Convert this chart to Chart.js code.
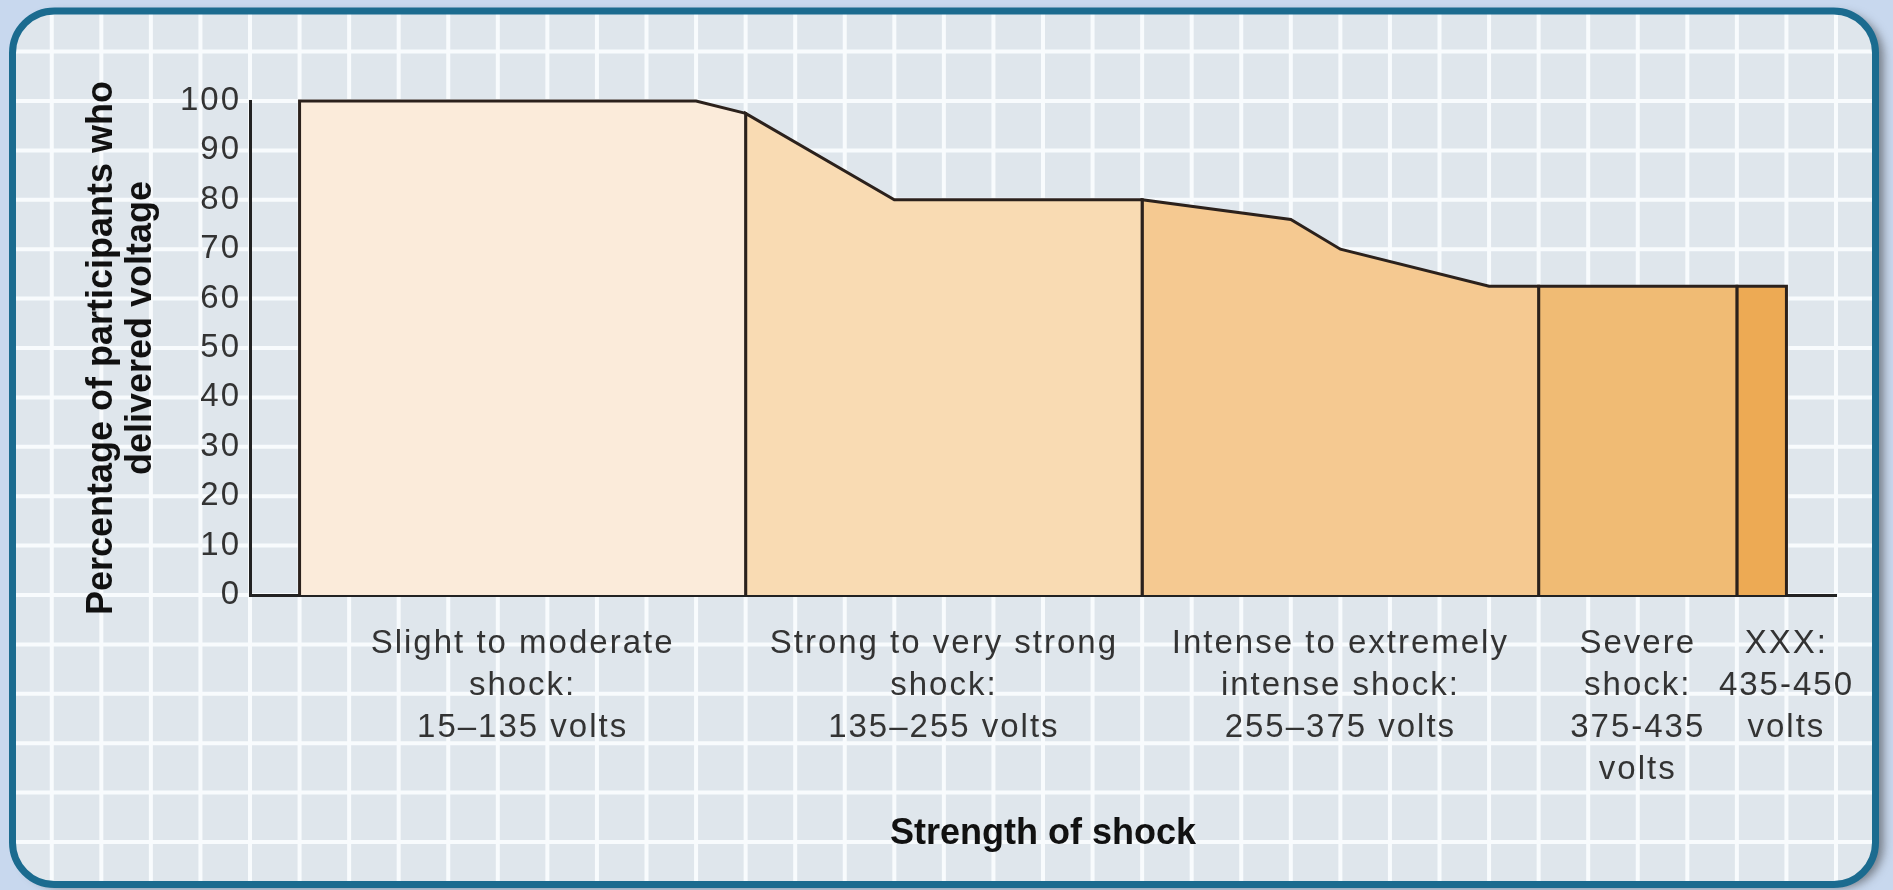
<!DOCTYPE html>
<html>
<head>
<meta charset="utf-8">
<script src="https://cdn.jsdelivr.net/npm/chart.js@4.4.0/dist/chart.umd.min.js"></script>
<style>
  html, body { margin: 0; padding: 0; background: #c8d8ee; overflow: hidden; }
  #wrap { width: 1893px; height: 890px; position: relative; }
</style>
</head>
<body>
<div id="wrap"><canvas id="shockChart"></canvas></div>
<script>
// shock level (volts) and % of participants still delivering it
const voltage = [0, 120, 135, 180, 255, 300, 315, 360, 375, 435, 450];
const percent = [100, 100, 97.5, 80, 80, 76, 70, 62.5, 62.5, 62.5, 62.5];

// shock bands on the generator
const bandEdges = [0, 135, 255, 375, 435, 450];
const bandColors = ['#fbebda', '#f9dbb3', '#f5c991', '#f0bb74', '#edaa54'];
const bandLabels = [
    ['Slight to moderate', 'shock:', '15–135 volts'],
    ['Strong to very strong', 'shock:', '135–255 volts'],
    ['Intense to extremely', 'intense shock:', '255–375 volts'],
    ['Severe', 'shock:', '375-435', 'volts'],
    ['XXX:', '435-450', 'volts']
];

const yTicks = [0, 10, 20, 30, 40, 50, 60, 70, 80, 90, 100];
const yTitle = ['Percentage of participants who', 'delivered voltage'];
const xTitle = 'Strength of shock';

const FONT = "'Liberation Sans', Arial, Helvetica, sans-serif";

// one filled shape per band: up the left edge, along the curve, down the right edge
function bandPoints(lo, hi) {
    const pts = [{ x: lo, y: 0 }];
    voltage.forEach((v, i) => {
        if (v >= lo && v <= hi) pts.push({ x: v, y: percent[i] });
    });
    pts.push({ x: hi, y: 0 });
    return pts;
}

const datasets = bandColors.map((col, i) => ({
    data: bandPoints(bandEdges[i], bandEdges[i + 1]),
    backgroundColor: col,
    borderColor: '#2b211c',
    borderWidth: 3,
    fill: 'origin',
    pointRadius: 0,
    tension: 0,
    borderJoinStyle: 'miter',
    clip: false
}));

// rounded panel with the white squared paper behind the chart
const panelPlugin = {
    id: 'panel',
    beforeDraw(chart) {
        const { ctx, scales: { x, y } } = chart;
        const L = 12.5, T = 11, R = 1875.5, B = 884.5, rad = 42;

        ctx.save();
        ctx.beginPath();
        ctx.roundRect(L, T, R - L, B - T, rad);
        ctx.shadowColor = 'rgba(50,50,50,0.55)';
        ctx.shadowOffsetX = 8;
        ctx.shadowOffsetY = 3;
        ctx.shadowBlur = 10;
        ctx.fillStyle = '#dfe6ec';
        ctx.fill();
        ctx.shadowColor = 'transparent';
        ctx.clip();

        ctx.strokeStyle = '#f8fbfd';
        ctx.lineWidth = 4;
        for (let v = -300; v <= 700; v += 15) {
            const px = x.getPixelForValue(v);
            if (px < L || px > R) continue;
            ctx.beginPath(); ctx.moveTo(px, T); ctx.lineTo(px, B); ctx.stroke();
        }
        for (let p = -80; p <= 200; p += 10) {
            const py = y.getPixelForValue(p);
            if (py < T || py > B) continue;
            ctx.beginPath(); ctx.moveTo(L, py); ctx.lineTo(R, py); ctx.stroke();
        }
        ctx.restore();

        ctx.save();
        ctx.beginPath();
        ctx.roundRect(L, T, R - L, B - T, rad);
        ctx.lineWidth = 7;
        ctx.strokeStyle = '#1b6b8f';
        ctx.stroke();
        ctx.restore();

        ctx.letterSpacing = '2px'; // picked up by the y tick labels
    },
    afterDraw(chart) {
        const { ctx, scales: { x } } = chart;
        ctx.save();

        // band names under the axis
        ctx.font = '33px ' + FONT;
        ctx.letterSpacing = '2px';
        ctx.fillStyle = '#333';
        ctx.textAlign = 'center';
        ctx.textBaseline = 'middle';
        bandLabels.forEach((lines, i) => {
            const last = i === bandLabels.length - 1;
            const v = last ? bandEdges[i + 1] : (bandEdges[i] + bandEdges[i + 1]) / 2;
            const px = x.getPixelForValue(v);
            lines.forEach((t, j) => ctx.fillText(t, px, 644 + j * 42));
        });

        // axis titles
        ctx.letterSpacing = '0px';
        ctx.fillStyle = '#111';
        ctx.font = 'bold 36px ' + FONT;
        ctx.fillText(xTitle, (chart.chartArea.left + chart.chartArea.right) / 2, 834);

        ctx.translate(102, 348);
        ctx.rotate(-Math.PI / 2);
        ctx.fillText(yTitle[0], 0, 0);
        ctx.fillText(yTitle[1], 20, 39);
        ctx.restore();
    }
};

new Chart(document.getElementById('shockChart'), {
    type: 'line',
    data: { datasets },
    plugins: [panelPlugin],
    options: {
        responsive: true,
        maintainAspectRatio: false,
        animation: false,
        layout: { padding: { left: 0, top: 101, right: 57, bottom: 0 } },
        plugins: { legend: { display: false }, tooltip: { enabled: false } },
        scales: {
            x: {
                type: 'linear',
                min: -15,
                max: 465,
                grid: { display: false, drawTicks: false },
                border: { display: true, color: '#222', width: 3 },
                ticks: { display: false },
                afterFit(s) { s.height = 295; }
            },
            y: {
                min: 0,
                max: 100,
                grid: { display: false, drawTicks: false },
                border: { display: true, color: '#222', width: 3 },
                afterBuildTicks(s) { s.ticks = yTicks.map(v => ({ value: v })); },
                ticks: { padding: 9, color: '#333', font: { family: FONT, size: 33 } },
                afterFit(s) { s.width = 250; }
            }
        }
    }
});
</script>
</body>
</html>
